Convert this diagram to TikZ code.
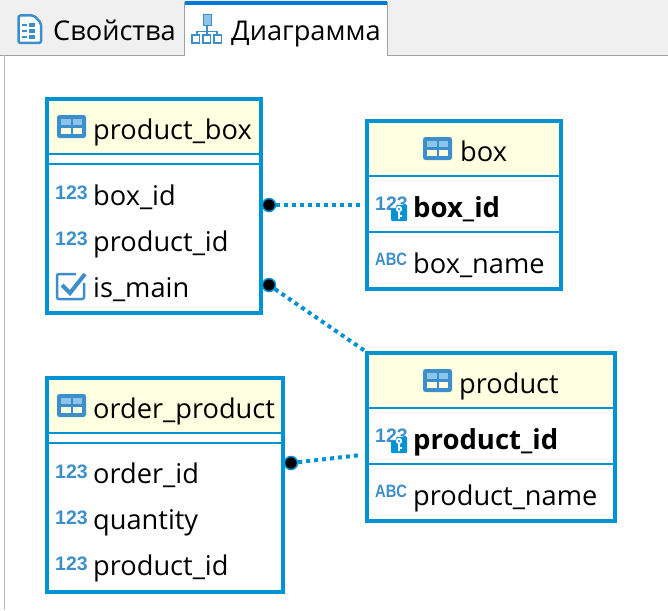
\documentclass[tikz,border=0pt]{standalone}
\usepackage{fontspec}
\setmainfont{Open Sans}
\newfontfamily\iconfont{Liberation Sans}
\definecolor{tblblue}{HTML}{0093D3}
\definecolor{iconblue}{HTML}{3D8FCB}
\definecolor{iconlight}{HTML}{8CC4EA}
\definecolor{headfill}{HTML}{FFFFE1}
\definecolor{tabgray}{HTML}{F0F0F0}
\definecolor{tabline}{HTML}{A0A0A0}
\definecolor{tabblue}{HTML}{0078D7}
\tikzset{
  x=1pt,y=-1pt,
  tablebox/.style={draw=tblblue,line width=4pt},
  sepline/.style={draw=tblblue,line width=2pt},
  txt/.style={anchor=base west,inner sep=0pt,font=\fontsize{27.2}{30}\selectfont,text=black},
  boldtxt/.style={txt,font=\fontsize{27.5}{30}\selectfont\bfseries},
  typetxt/.style={anchor=base west,inner sep=0pt,font=\iconfont\fontsize{19.5}{20}\selectfont\bfseries,text=iconblue},
  enddot/.style={circle,fill=black,draw=tblblue,line width=1.5pt,minimum size=13pt,inner sep=0pt},
  rel/.style={draw=tblblue,line width=4pt,dash pattern=on 4pt off 4pt},
  tableicon/.pic={
    \fill[iconblue,rounded corners=2.5pt] (0,0) rectangle (29,23);
    \fill[iconlight] (4,4) rectangle (13.5,10);
    \fill[iconlight] (15.5,4) rectangle (25,10);
    \fill[headfill] (4,12.5) rectangle (13.5,19);
    \fill[headfill] (15.5,12.5) rectangle (25,19);
  },
  keyicon/.pic={
    \fill[tblblue,rounded corners=1pt] (0,4) -- (5,4) -- (5,0) -- (16,0) -- (16,16) -- (0,16) -- cycle;
    \fill[white] (8,4) circle (3.2);
    \fill[tblblue] (8,4) circle (1.2);
    \fill[white] (7,6) rectangle (9,14);
    \fill[white] (9,10) rectangle (11,12);
  },
  checkicon/.pic={
    \draw[iconblue,line width=2.5pt,rounded corners=2pt] (1,3) rectangle (28,28);
    \fill[white] (20,0) rectangle (32,12);
    \draw[iconblue,line width=4pt] (6,14) -- (14,22) -- (29,3);
  },
}
\newcommand{\abcicon}[3]{\node[typetxt,font=\iconfont\fontsize{16}{16}\selectfont\bfseries] (#3) at (#1,#2) {\scalebox{0.92}[1.12]{ABC}};}
\begin{document}
\begin{tikzpicture}
\useasboundingbox (0,0) rectangle (668,610);
\fill[white] (0,0) rectangle (668,610);
% tab strip
\fill[tabgray] (0,0) rectangle (668,55);
\draw[tabline,line width=1pt] (0,55.5) -- (668,55.5);
\draw[tabline!70,line width=1pt] (4.5,55) -- (4.5,610);
\fill[white] (184,2) rectangle (387,56);
\draw[tabline,line width=1pt] (184,56) -- (184,2);
\draw[tabline,line width=1pt] (387,2) -- (387,56);
\fill[tabblue] (185,1) rectangle (387,5);
% properties icon
\draw[iconblue,line width=2.5pt,fill=white,rounded corners=2pt,line join=round] (18.5,15.5) -- (34,15.5) -- (41,23) -- (41,43) -- (18.5,43) -- cycle;
\foreach \yy in {24,30,36}{
  \fill[iconblue] (22,\yy) rectangle (27,\yy+2);
  \fill[iconblue] (29,\yy-0.5) rectangle (35,\yy+3);
}
% diagram icon
\fill[iconlight,draw=iconblue,line width=1pt] (203,15) rectangle (211,26);
\draw[iconblue,line width=1.5pt] (207,26) -- (207,32) (197,34) -- (197,31.5) -- (217,31.5) -- (217,34) (207,31) -- (207,34);
\foreach \xx in {192,203,214}{
  \draw[iconblue,line width=1.5pt,fill=white] (\xx,35) rectangle (\xx+7.5,43);
}
\node[txt] (tabprops) at (53,41) {Свойства};
\node[txt] (tabdiag) at (231,41) {Диаграмма};
% product_box
\fill[headfill] (47,99) rectangle (261,154);
\node[tablebox,minimum width=214pt,minimum height=214pt,inner sep=0pt] (pb) at (154,206) {};
\draw[sepline] (47,154) -- (261,154) (47,164) -- (261,164);
\pic at (57,115) {tableicon};
\node[txt] (pbt) at (93,139.5) {product\_box};
\node[typetxt] (pb1t) at (55,199) {123};
\node[txt] (pb1) at (93,205) {box\_id};
\node[typetxt] (pb2t) at (55,245) {123};
\node[txt] (pb2) at (93,251) {product\_id};
\pic at (56,271) {checkicon};
\node[txt] (pb3) at (93,297) {is\_main};
% box
\fill[headfill] (367,121) rectangle (561,176);
\node[tablebox,minimum width=194pt,minimum height=168pt,inner sep=0pt] (bx) at (464,205) {};
\draw[sepline] (367,176) -- (561,176) (367,232) -- (561,232);
\pic at (423,137) {tableicon};
\node[txt] (bxt) at (460,161.5) {box};
\node[typetxt] (bx1t) at (375,210) {123};
\pic at (391,205) {keyicon};
\node[boldtxt] (bx1) at (413,217.5) {box\_id};
\abcicon{375}{265}{bx2t}
\node[txt] (bx2) at (413,273.5) {box\_name};
% product
\fill[headfill] (367,353) rectangle (615,408);
\node[tablebox,minimum width=248pt,minimum height=168pt,inner sep=0pt] (pr) at (491,437) {};
\draw[sepline] (367,408) -- (615,408) (367,464) -- (615,464);
\pic at (423,369) {tableicon};
\node[txt] (prt) at (459,393.5) {product};
\node[typetxt] (pr1t) at (375,442) {123};
\pic at (391,437) {keyicon};
\node[boldtxt] (pr1) at (413,449.5) {product\_id};
\abcicon{375}{497}{pr2t}
\node[txt] (pr2) at (413,505.5) {product\_name};
% order_product
\fill[headfill] (47,378) rectangle (283,433);
\node[tablebox,minimum width=236pt,minimum height=214pt,inner sep=0pt] (op) at (165,485) {};
\draw[sepline] (47,433) -- (283,433) (47,443) -- (283,443);
\pic at (57,394) {tableicon};
\node[txt] (opt) at (93,418.5) {order\_product};
\node[typetxt] (op1t) at (55,478) {123};
\node[txt] (op1) at (93,483.5) {order\_id};
\node[typetxt] (op2t) at (55,524) {123};
\node[txt] (op2) at (93,529.5) {quantity};
\node[typetxt] (op3t) at (55,570) {123};
\node[txt] (op3) at (93,575.5) {product\_id};
% connectors
\coordinate (e1) at (361,205);
\coordinate (e2) at (365,351);
\coordinate (e3) at (361,455);
\node[enddot] (d1) at (269,205) {};
\node[enddot] (d2) at (269,285) {};
\node[enddot] (d3) at (291,463) {};
\draw[rel] (d1) -- (e1);
\draw[rel] (d2) -- (e2);
\draw[rel] (d3) -- (e3);
\end{tikzpicture}
\end{document}
